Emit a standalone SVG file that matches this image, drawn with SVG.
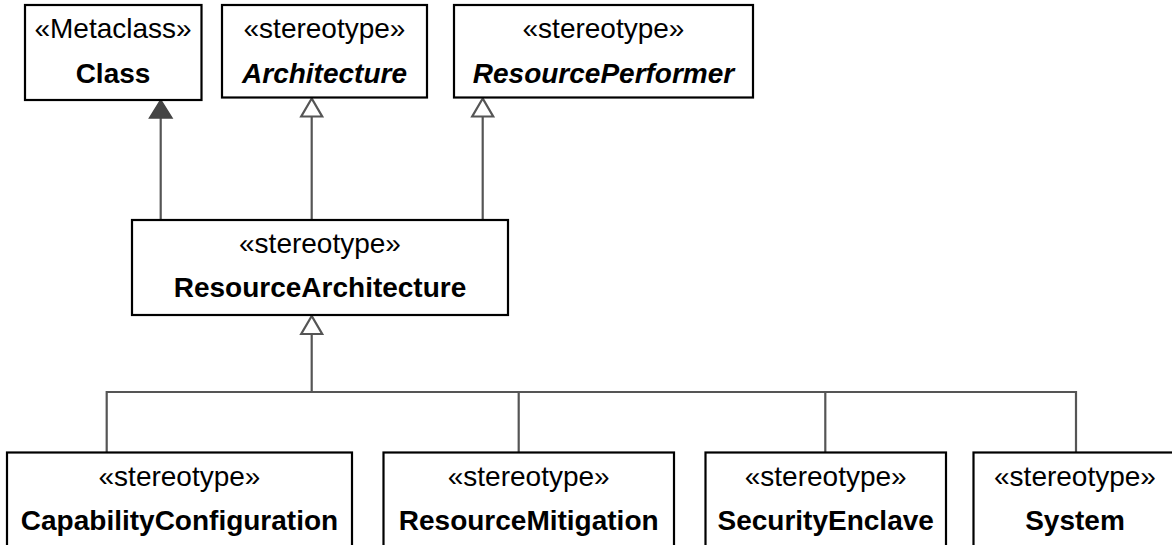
<svg xmlns="http://www.w3.org/2000/svg" width="1172" height="545" viewBox="0 0 1172 545">
<style>
  .box { fill: #ffffff; stroke: #000000; stroke-width: 2.2; }
  .st { font-family: "Liberation Sans", Arial, sans-serif; font-size: 28px; fill: #000000; text-anchor: middle; }
  .nm { font-family: "Liberation Sans", Arial, sans-serif; font-size: 28px; font-weight: bold; fill: #000000; text-anchor: middle; }
  .it { font-style: italic; }
  .line { fill: none; stroke: #555555; stroke-width: 2.2; }
  .hollow { fill: #ffffff; stroke: #555555; stroke-width: 2.2; stroke-linejoin: miter; }
  .filled { fill: #444444; stroke: #444444; stroke-width: 1.5; }
</style>
<rect width="1172" height="545" fill="#ffffff"/>
<g id="connectors">
  <line class="line" x1="160.7" y1="117" x2="160.7" y2="220"/>
  <polygon class="filled" points="160.7,100 149.5,118 172,118"/>
  <line class="line" x1="311.7" y1="117" x2="311.7" y2="220"/>
  <polygon class="hollow" points="311.7,98.5 301.2,116.5 322.2,116.5"/>
  <line class="line" x1="482.7" y1="117" x2="482.7" y2="220"/>
  <polygon class="hollow" points="482.7,98.5 472.2,116.5 493.2,116.5"/>
  <polyline class="line" points="106.7,452 106.7,392 1076,392 1076,452"/>
  <line class="line" x1="518.7" y1="392" x2="518.7" y2="452"/>
  <line class="line" x1="825.3" y1="392" x2="825.3" y2="452"/>
  <line class="line" x1="311.7" y1="333" x2="311.7" y2="392"/>
  <polygon class="hollow" points="311.7,316 301.2,334 322.2,334"/>
</g>
<g id="node-class">
  <rect class="box" x="25" y="5" width="176.5" height="95"/>
  <text class="st" x="113" y="38">«Metaclass»</text>
  <text class="nm" x="113" y="83">Class</text>
</g>
<g id="node-architecture">
  <rect class="box" x="222" y="5" width="205" height="92.5"/>
  <text class="st" x="324.5" y="38">«stereotype»</text>
  <text class="nm it" x="324.5" y="83">Architecture</text>
</g>
<g id="node-resourceperformer">
  <rect class="box" x="454" y="5" width="299" height="92.5"/>
  <text class="st" x="603.5" y="38">«stereotype»</text>
  <text class="nm it" x="603.5" y="83">ResourcePerformer</text>
</g>
<g id="node-resourcearchitecture">
  <rect class="box" x="132" y="220" width="376" height="95"/>
  <text class="st" x="320" y="253">«stereotype»</text>
  <text class="nm" x="320" y="297">ResourceArchitecture</text>
</g>
<g id="node-capabilityconfiguration">
  <rect class="box" x="7" y="452.5" width="345" height="100"/>
  <text class="st" x="179.5" y="485.5">«stereotype»</text>
  <text class="nm" x="179.5" y="530">CapabilityConfiguration</text>
</g>
<g id="node-resourcemitigation">
  <rect class="box" x="383.5" y="452.5" width="290.5" height="100"/>
  <text class="st" x="528.7" y="485.5">«stereotype»</text>
  <text class="nm" x="528.7" y="530">ResourceMitigation</text>
</g>
<g id="node-securityenclave">
  <rect class="box" x="705.5" y="452.5" width="240.5" height="100"/>
  <text class="st" x="825.7" y="485.5">«stereotype»</text>
  <text class="nm" x="825.7" y="530">SecurityEnclave</text>
</g>
<g id="node-system">
  <rect class="box" x="973.5" y="452.5" width="210" height="100"/>
  <text class="st" x="1075" y="485.5">«stereotype»</text>
  <text class="nm" x="1075" y="530">System</text>
</g>
</svg>
